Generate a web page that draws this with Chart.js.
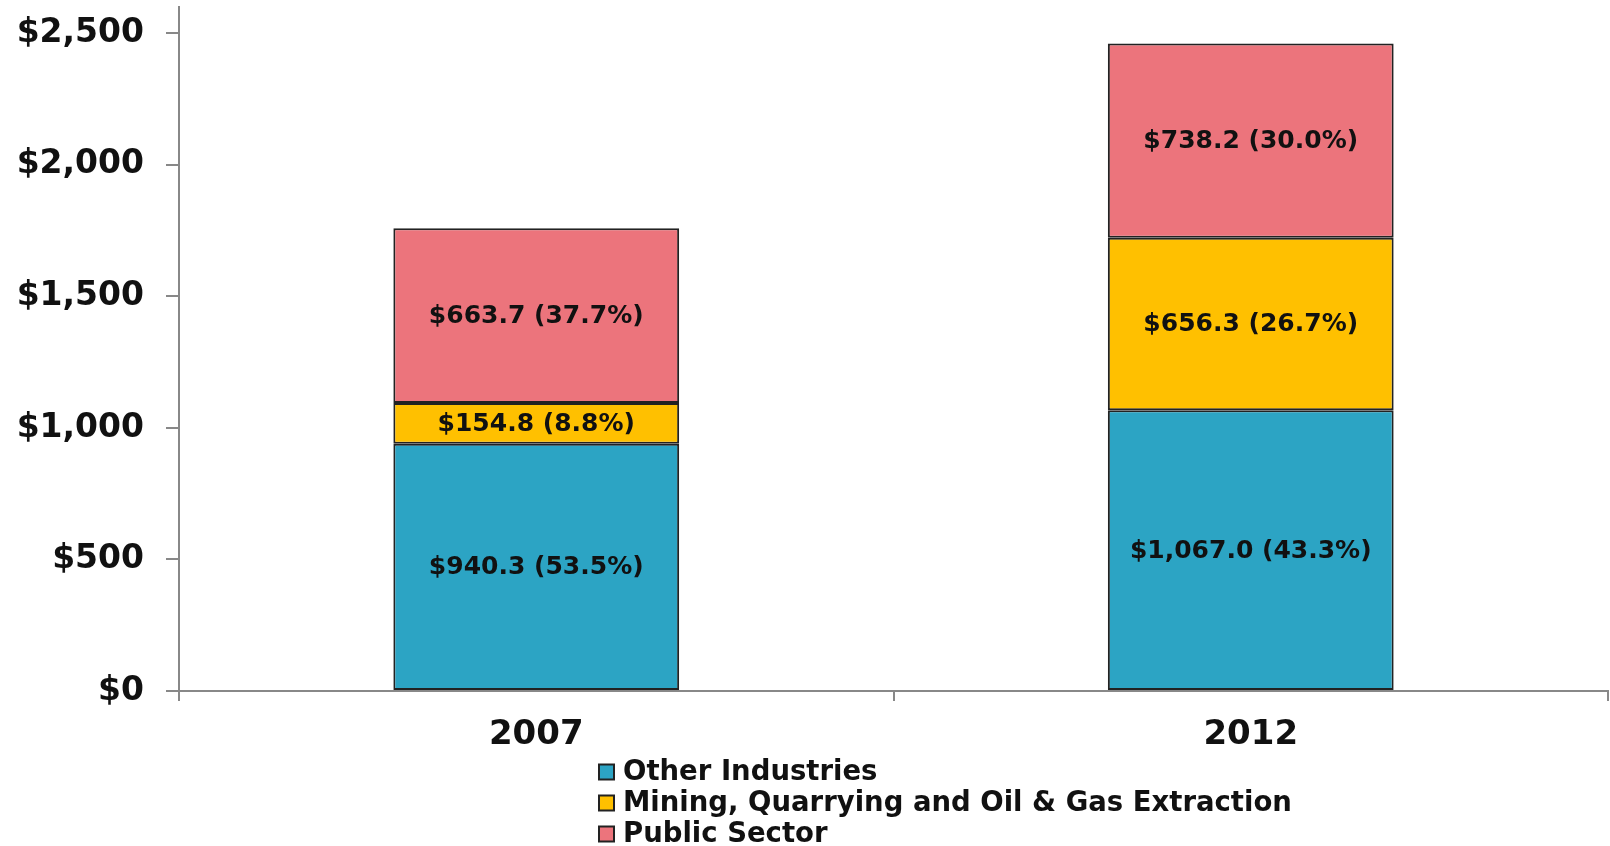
<!DOCTYPE html>
<html>
<head>
<meta charset="utf-8">
<script src="https://cdn.jsdelivr.net/npm/chart.js@4.4.1/dist/chart.umd.min.js"></script>
<style>
  html, body { margin: 0; padding: 0; background: #fff; }
  #wrap { position: relative; width: 1610px; height: 846px; }
</style>
</head>
<body>
<div id="wrap"><canvas id="myChart" width="1610" height="846"></canvas></div>
<script>
// --- dados ---
const categories = ['2007', '2012'];
const otherIndustries = [940.3, 1067.0];
const miningOilGas = [154.8, 656.3];
const publicSector = [663.7, 738.2];
const otherPct = [53.5, 43.3];
const miningPct = [8.8, 26.7];
const publicPct = [37.7, 30.0];
const yTicks = [0, 500, 1000, 1500, 2000, 2500];

const seriesNames = ['Other Industries', 'Mining, Quarrying and Oil & Gas Extraction', 'Public Sector'];
const seriesColors = ['#2ca4c4', '#ffc000', '#ec747c'];
const FONT = '"DejaVu Sans", sans-serif';
const TEXT = '#111';

function money(v) {
  return '$' + v.toLocaleString('en-US', { minimumFractionDigits: 1, maximumFractionDigits: 1 });
}

// rótulos dentro das barras
const barLabels = {
  id: 'barLabels',
  afterDatasetsDraw(chart) {
    const ctx = chart.ctx;
    ctx.save();
    ctx.font = 'bold 25px ' + FONT;
    ctx.fillStyle = TEXT;
    ctx.textAlign = 'center';
    ctx.textBaseline = 'middle';
    chart.data.datasets.forEach((ds, i) => {
      const meta = chart.getDatasetMeta(i);
      meta.data.forEach((bar, j) => {
        const p = bar.getProps(['x', 'y', 'base'], true);
        const txt = money(ds.data[j]) + ' (' + ds.pct[j].toFixed(1) + '%)';
        ctx.fillText(txt, p.x, (p.y + p.base) / 2 + 1);
      });
    });
    ctx.restore();
  }
};

// legenda em coluna, alinhada à esquerda
const columnLegend = {
  id: 'columnLegend',
  afterDraw(chart) {
    const ctx = chart.ctx;
    const x0 = 599, rowY = [772, 803, 834], box = 15;
    ctx.save();
    ctx.font = 'bold 27.5px ' + FONT;
    ctx.textAlign = 'left';
    ctx.textBaseline = 'middle';
    chart.data.datasets.forEach((ds, i) => {
      const y = rowY[i];
      ctx.fillStyle = ds.backgroundColor;
      ctx.fillRect(x0, y - box / 2, box, box);
      ctx.strokeStyle = '#222';
      ctx.lineWidth = 2;
      ctx.strokeRect(x0, y - box / 2, box, box);
      ctx.fillStyle = TEXT;
      ctx.fillText(ds.label, x0 + 24, y + 1);
    });
    ctx.restore();
  }
};

const datasets = [otherIndustries, miningOilGas, publicSector].map((vals, i) => ({
  label: seriesNames[i],
  data: vals,
  pct: [otherPct, miningPct, publicPct][i],
  backgroundColor: seriesColors[i],
  borderColor: '#222',
  borderWidth: 2,
  borderSkipped: false,
  categoryPercentage: 1,
  barPercentage: 0.4
}));

new Chart(document.getElementById('myChart').getContext('2d'), {
  type: 'bar',
  data: { labels: categories, datasets: datasets },
  plugins: [barLabels, columnLegend],
  options: {
    responsive: false,
    animation: false,
    devicePixelRatio: 1,
    layout: { padding: { left: 0, top: 7, right: 2, bottom: 0 } },
    plugins: { legend: { display: false }, tooltip: { enabled: false } },
    scales: {
      x: {
        stacked: true,
        border: { color: '#888', width: 2 },
        grid: { drawOnChartArea: false, drawTicks: true, tickLength: 10, color: '#888', lineWidth: 2 },
        ticks: { color: TEXT, padding: 14, font: { family: FONT, weight: 'bold', size: 34 } },
        afterFit: (s) => { s.height = 155; s.paddingLeft = 0; s.paddingRight = 0; }
      },
      y: {
        stacked: true,
        min: 0,
        max: 2600,
        afterBuildTicks: (axis) => { axis.ticks = yTicks.map(v => ({ value: v })); },
        border: { color: '#888', width: 2 },
        grid: { drawOnChartArea: false, drawTicks: true, tickLength: 13, color: '#888', lineWidth: 2 },
        ticks: {
          color: TEXT,
          padding: 22,
          font: { family: FONT, weight: 'bold', size: 33 },
          callback: (v) => '$' + v.toLocaleString('en-US')
        },
        afterFit: (s) => { s.width = 179; s.paddingTop = 0; s.paddingBottom = 0; }
      }
    }
  }
});
</script>
</body>
</html>
